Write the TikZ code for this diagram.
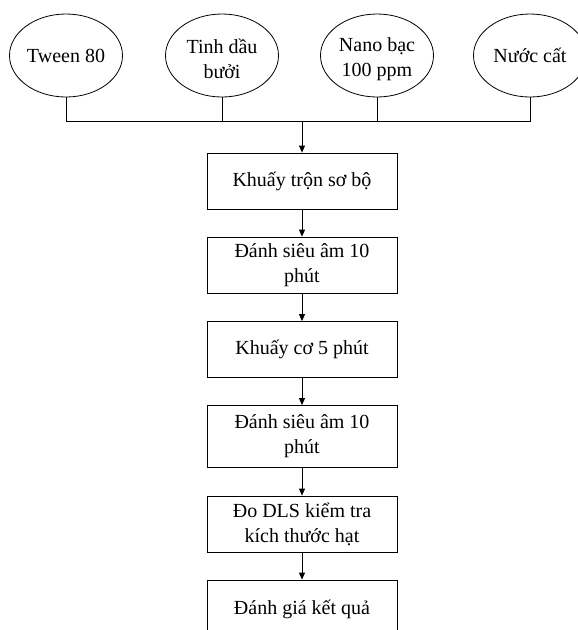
\documentclass[tikz,border=0pt]{standalone}
\usepackage{fontspec}
\setmainfont{Liberation Serif}
\usetikzlibrary{shapes.geometric,arrows.meta}
\begin{document}
\begin{tikzpicture}[x=1pt,y=-1pt,
  every node/.style={font=\fontsize{20}{25}\selectfont},
  src/.style={draw,ellipse,minimum width=113pt,minimum height=83pt,inner sep=0pt,align=center},
  stepbox/.style={draw,rectangle,minimum width=190pt,inner sep=0pt,align=center},
  arr/.style={-{Triangle[length=7pt,width=6pt]}},
  line width=0.8pt]
\useasboundingbox (0,0) rectangle (578,630);
\node[src] (e1) at (66,55.5) {Tween 80};
\node[src] (e2) at (222,55.5) {};
\node[src] (e3) at (377,55.5) {};
\node[src] (e4) at (530,55.5) {Nước cất};
\node[align=center] (t2) at (222,59) {Tinh dầu\\bưởi};
\node[align=center] (t3) at (377,59) {Nano bạc\\100 ppm};
\coordinate (h1) at (66,121);
\coordinate (h2) at (222,121);
\coordinate (h3) at (377,121);
\coordinate (h4) at (530,121);
\coordinate (hm) at (302,121);
\draw (e1.south) -- (h1) -- (h4) -- (e4.south);
\draw (e2.south) -- (h2);
\draw (e3.south) -- (h3);
\node[stepbox,minimum height=56pt] (b1) at (302,181) {Khuấy trộn sơ bộ};
\node[stepbox,minimum height=56pt] (b2) at (302,265) {Đánh siêu âm 10\\phút};
\node[stepbox,minimum height=56pt] (b3) at (302,349.5) {Khuấy cơ 5 phút};
\node[stepbox,minimum height=62pt] (b4) at (302,436.5) {Đánh siêu âm 10\\phút};
\node[stepbox,minimum height=56pt] (b5) at (302,524) {Đo DLS kiểm tra\\kích thước hạt};
\node[stepbox,minimum height=78pt] (b6) at (302,619) {};
\node (t6) at (302,609) {Đánh giá kết quả};
\draw[arr] (hm) -- (b1.north);
\draw[arr] (b1) -- (b2);
\draw[arr] (b2) -- (b3);
\draw[arr] (b3) -- (b4);
\draw[arr] (b4) -- (b5);
\draw[arr] (b5) -- (b6);
\end{tikzpicture}
\end{document}
